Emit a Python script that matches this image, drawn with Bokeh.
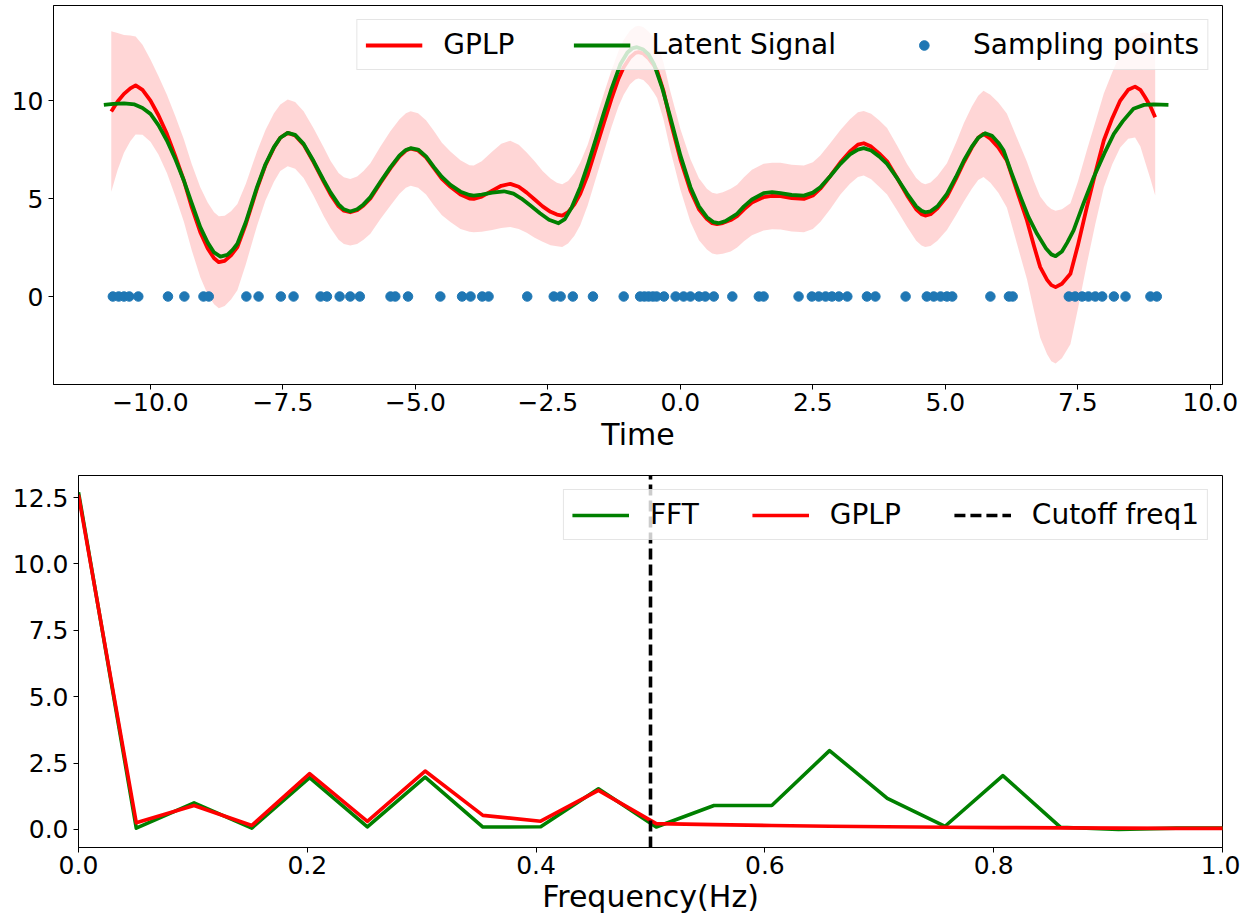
from bokeh.plotting import figure
from bokeh.models import (Legend, LegendItem, FixedTicker, CustomJSTickFormatter,
                          Range1d, ColumnDataSource)
from bokeh.embed import file_html
from bokeh.resources import INLINE

# ---------------- data: top panel ----------------
latent_t = [-10.88, -10.7, -10.5, -10.3, -10.15, -10.0, -9.85, -9.69, -9.53, -9.37,
            -9.22, -9.06, -8.92, -8.8, -8.68, -8.55, -8.45, -8.36, -8.2, -7.99,
            -7.83, -7.67, -7.55, -7.41, -7.27, -7.11, -6.92, -6.73, -6.6, -6.45,
            -6.35, -6.23, -6.1, -5.98, -5.85, -5.66, -5.47, -5.3, -5.18, -5.09,
            -4.95, -4.8, -4.65, -4.5, -4.34, -4.15, -3.98, -3.9, -3.75, -3.55,
            -3.33, -3.15, -3.0, -2.83, -2.65, -2.48, -2.3, -2.18, -2.05, -1.89,
            -1.75, -1.6, -1.45, -1.3, -1.13, -1.0, -0.9, -0.82, -0.7, -0.6,
            -0.5, -0.35, -0.19, 0.0, 0.19, 0.35, 0.5, 0.62, 0.72, 0.85,
            1.07, 1.2, 1.35, 1.57, 1.73, 1.89, 2.1, 2.33, 2.5, 2.64,
            2.83, 3.02, 3.2, 3.35, 3.46, 3.6, 3.75, 3.9, 4.1, 4.28,
            4.45, 4.55, 4.62, 4.72, 4.85, 5.03, 5.2, 5.35, 5.5, 5.62,
            5.75, 5.88, 6.0, 6.1, 6.25, 6.42, 6.57, 6.73, 6.9, 7.0,
            7.08, 7.2, 7.3, 7.42, 7.6, 7.8, 8.0, 8.18, 8.35, 8.55,
            8.75, 8.93, 9.21]
latent_y = [9.78, 9.83, 9.86, 9.8, 9.62, 9.32, 8.75, 7.96, 7.0, 5.92,
            4.75, 3.54, 2.75, 2.25, 2.04, 2.12, 2.38, 2.69, 3.8, 5.58,
            6.75, 7.62, 8.1, 8.35, 8.25, 7.79, 6.9, 5.92, 5.3, 4.7,
            4.45, 4.34, 4.45, 4.7, 5.07, 5.85, 6.6, 7.2, 7.48, 7.57,
            7.5, 7.15, 6.6, 6.1, 5.7, 5.35, 5.18, 5.15, 5.2, 5.3,
            5.37, 5.25, 5.0, 4.64, 4.25, 3.92, 3.74, 3.95, 4.55, 5.58,
            6.7, 8.0, 9.32, 10.6, 11.87, 12.45, 12.68, 12.72, 12.6, 12.35,
            11.87, 10.7, 9.15, 7.2, 5.58, 4.6, 4.05, 3.8, 3.74, 3.85,
            4.22, 4.6, 4.95, 5.27, 5.33, 5.27, 5.18, 5.15, 5.3, 5.58,
            6.15, 6.77, 7.25, 7.5, 7.57, 7.45, 7.15, 6.77, 6.0, 5.24,
            4.6, 4.38, 4.3, 4.35, 4.6, 5.24, 6.1, 6.94, 7.65, 8.1,
            8.33, 8.2, 7.85, 7.45, 6.3, 5.07, 4.05, 3.2, 2.45, 2.15,
            2.06, 2.3, 2.75, 3.37, 4.7, 6.09, 7.3, 8.3, 8.95, 9.58,
            9.78, 9.8, 9.78]

gplp_t = [-10.74, -10.62, -10.5, -10.38, -10.28, -10.15, -10.0, -9.85, -9.69, -9.53,
          -9.37, -9.22, -9.06, -8.92, -8.8, -8.71, -8.6, -8.48, -8.36, -8.2,
          -7.99, -7.83, -7.67, -7.55, -7.41, -7.27, -7.11, -6.92, -6.73, -6.6,
          -6.45, -6.35, -6.23, -6.1, -5.98, -5.85, -5.66, -5.47, -5.3, -5.18,
          -5.09, -4.95, -4.8, -4.65, -4.5, -4.34, -4.15, -3.98, -3.9, -3.75,
          -3.55, -3.38, -3.21, -3.05, -2.9, -2.75, -2.6, -2.45, -2.33, -2.23,
          -2.12, -2.0, -1.89, -1.75, -1.6, -1.45, -1.3, -1.17, -1.07, -0.95,
          -0.85, -0.79, -0.7, -0.6, -0.5, -0.44, -0.32, -0.19, 0.0, 0.19,
          0.35, 0.5, 0.6, 0.69, 0.8, 0.95, 1.07, 1.2, 1.35, 1.57,
          1.73, 1.89, 2.1, 2.33, 2.5, 2.64, 2.83, 3.02, 3.2, 3.35,
          3.46, 3.6, 3.75, 3.9, 4.1, 4.28, 4.45, 4.55, 4.62, 4.72,
          4.85, 5.03, 5.2, 5.35, 5.5, 5.62, 5.72, 5.85, 6.0, 6.16,
          6.35, 6.54, 6.67, 6.79, 6.92, 7.0, 7.08, 7.2, 7.36, 7.5,
          7.67, 7.83, 7.99, 8.15, 8.3, 8.45, 8.58, 8.68, 8.77, 8.87, 8.96]
gplp_y = [9.44, 9.95, 10.34, 10.62, 10.77, 10.55, 10.0, 9.25, 8.3, 7.15,
          5.92, 4.55, 3.28, 2.45, 1.95, 1.75, 1.82, 2.1, 2.52, 3.7,
          5.5, 6.7, 7.6, 8.1, 8.35, 8.22, 7.75, 6.85, 5.85, 5.2,
          4.6, 4.38, 4.3, 4.4, 4.65, 5.0, 5.8, 6.55, 7.15, 7.45,
          7.55, 7.45, 7.1, 6.55, 6.0, 5.6, 5.2, 5.0, 4.98, 5.1,
          5.4, 5.65, 5.75, 5.6, 5.3, 4.95, 4.6, 4.32, 4.18, 4.13,
          4.3, 4.7, 5.24, 6.2, 7.5, 8.81, 10.1, 11.1, 11.7, 12.2,
          12.43, 12.47, 12.4, 12.15, 11.8, 11.53, 10.5, 8.98, 7.0, 5.4,
          4.45, 3.95, 3.74, 3.69, 3.75, 3.9, 4.1, 4.45, 4.8, 5.07,
          5.13, 5.12, 5.02, 4.98, 5.15, 5.5, 6.15, 6.85, 7.4, 7.75,
          7.82, 7.65, 7.3, 6.9, 6.0, 5.15, 4.45, 4.2, 4.13, 4.2,
          4.5, 5.1, 6.0, 6.85, 7.6, 8.1, 8.3, 8.05, 7.6, 6.94,
          5.4, 3.88, 2.6, 1.5, 0.85, 0.58, 0.48, 0.65, 1.16, 2.6,
          4.56, 6.3, 7.96, 9.1, 10.0, 10.55, 10.71, 10.55, 10.17, 9.7, 9.15]
gplp_sd = [4.1, 3.5, 3.0, 2.7, 2.5, 2.3, 2.1, 2.0, 2.0, 2.05,
           2.1, 2.2, 2.3, 2.35, 2.35, 2.35, 2.3, 2.25, 2.2, 2.05,
           1.9, 1.8, 1.75, 1.7, 1.7, 1.7, 1.7, 1.72, 1.75, 1.72,
           1.7, 1.7, 1.7, 1.72, 1.75, 1.8, 1.85, 1.9, 1.9, 1.9,
           1.9, 1.9, 1.9, 1.9, 1.85, 1.8, 1.75, 1.7, 1.7, 1.8,
           2.0, 2.15, 2.2, 2.15, 2.05, 1.95, 1.8, 1.7, 1.62, 1.6,
           1.6, 1.6, 1.6, 1.55, 1.52, 1.5, 1.45, 1.42, 1.4, 1.37,
           1.35, 1.35, 1.35, 1.37, 1.4, 1.4, 1.45, 1.5, 1.55, 1.6,
           1.58, 1.55, 1.55, 1.55, 1.57, 1.6, 1.6, 1.63, 1.67, 1.7,
           1.7, 1.7, 1.7, 1.7, 1.7, 1.7, 1.68, 1.65, 1.65, 1.65,
           1.65, 1.67, 1.7, 1.7, 1.65, 1.6, 1.6, 1.6, 1.6, 1.62,
           1.65, 1.7, 1.85, 2.0, 2.1, 2.15, 2.2, 2.25, 2.3, 2.4,
           2.7, 3.0, 3.3, 3.6, 3.8, 3.88, 3.9, 3.8, 3.6, 3.25,
           2.9, 2.6, 2.4, 2.35, 2.4, 2.5, 2.6, 2.9, 3.3, 3.7, 4.0]

sample_t = [-10.71, -10.6, -10.5, -10.4, -10.23, -9.67, -9.36, -9.0, -8.9, -8.19, -7.96,
            -7.54, -7.3, -6.79, -6.67, -6.43, -6.23, -6.05, -5.47, -5.38, -5.14, -4.53,
            -4.12, -3.96, -3.74, -3.62, -2.89, -2.39, -2.26, -2.03, -1.65, -1.07, -0.76,
            -0.68, -0.6, -0.52, -0.45, -0.31, -0.09, 0.06, 0.19, 0.35, 0.47, 0.63, 0.98,
            1.48, 1.57, 2.23, 2.48, 2.61, 2.74, 2.86, 2.99, 3.15, 3.52, 3.68, 4.25, 4.65,
            4.78, 4.91, 5.03, 5.13, 5.85, 6.2, 6.27, 7.33, 7.45, 7.58, 7.7, 7.83, 7.96,
            8.18, 8.4, 8.87, 8.99]
sample_y = [0.0] * len(sample_t)

# ---------------- data: bottom panel ----------------
freq = [0.0, 0.0505, 0.101, 0.1515, 0.202, 0.2525, 0.303, 0.3535, 0.404, 0.4545, 0.505,
        0.5555, 0.606, 0.6565, 0.707, 0.7575, 0.808, 0.8585, 0.909, 0.9595, 1.01]
fft_amp = [12.7, 0.05, 1.0, 0.05, 1.95, 0.1, 1.97, 0.09, 0.1, 1.53, 0.09,
           0.9, 0.9, 2.97, 1.17, 0.12, 2.03, 0.08, 0.0, 0.05, 0.05]
gplp_amp = [12.6, 0.25, 0.9, 0.15, 2.1, 0.3, 2.2, 0.53, 0.31, 1.47, 0.22,
            0.18, 0.15, 0.12, 0.1, 0.08, 0.07, 0.06, 0.05, 0.04, 0.04]
cutoff = 0.5

FONT = "DejaVu Sans"


def style(p, xlabel, axis_standoff):
    p.outline_line_color = "black"
    p.outline_line_width = 1
    p.xgrid.visible = False
    p.ygrid.visible = False
    for ax in (p.xaxis[0], p.yaxis[0]):
        ax.major_label_text_font = FONT
        ax.major_label_text_font_size = "25px"
        ax.major_label_text_color = "black"
        ax.major_tick_in = 0
        ax.major_tick_out = 5
        ax.minor_tick_in = 0
        ax.minor_tick_out = 0
        ax.axis_line_color = "black"
        ax.major_tick_line_color = "black"
    p.yaxis[0].major_label_standoff = 5
    p.xaxis[0].major_label_standoff = 3
    p.xaxis[0].axis_label = xlabel
    p.xaxis[0].axis_label_text_font = FONT
    p.xaxis[0].axis_label_text_font_size = "30px"
    p.xaxis[0].axis_label_text_font_style = "normal"
    p.xaxis[0].axis_label_text_color = "black"
    p.xaxis[0].axis_label_standoff = axis_standoff


def make_legend(items, spacing):
    lg = Legend(items=items, location="top_right", orientation="horizontal")
    lg.label_text_font = FONT
    lg.label_text_font_size = "28px"
    lg.label_text_color = "black"
    lg.glyph_width = 57
    lg.glyph_height = 24
    lg.label_standoff = 21
    lg.spacing = spacing
    lg.padding = 8
    lg.margin = 14
    lg.border_line_color = "#cccccc"
    lg.border_line_width = 1
    lg.background_fill_alpha = 0.8
    return lg


fmt1 = CustomJSTickFormatter(code="return (tick < 0 ? '\u2212' : '') + Math.abs(tick).toFixed(1);")
fmt0 = CustomJSTickFormatter(code="return (tick < 0 ? '\u2212' : '') + Math.abs(tick).toFixed(0);")

# ---------------- top figure ----------------
p1 = figure(width=1240, height=456, output_backend="svg", toolbar_location=None,
            x_range=Range1d(-11.83, 10.23), y_range=Range1d(-4.49, 14.85),
            min_border_left=53, min_border_right=18, min_border_top=5, min_border_bottom=72)
style(p1, "Time", 3)
p1.xaxis[0].ticker = FixedTicker(ticks=[-10.0, -7.5, -5.0, -2.5, 0.0, 2.5, 5.0, 7.5, 10.0])
p1.xaxis[0].formatter = fmt1
p1.yaxis[0].ticker = FixedTicker(ticks=[0, 5, 10])
p1.yaxis[0].formatter = fmt0

band_src = ColumnDataSource(dict(
    t=gplp_t,
    lo=[m - s for m, s in zip(gplp_y, gplp_sd)],
    hi=[m + s for m, s in zip(gplp_y, gplp_sd)],
))
p1.varea(x="t", y1="lo", y2="hi", source=band_src, fill_color="red", fill_alpha=0.16)
r_gplp = p1.line(gplp_t, gplp_y, line_color="red", line_width=3.8, line_join="round")
r_lat = p1.line(latent_t, latent_y, line_color="green", line_width=3.8, line_join="round")
r_samp = p1.scatter(sample_t, sample_y, size=9.5, fill_color="#1f77b4", line_color="#1f77b4")

p1.add_layout(make_legend([
    LegendItem(label="GPLP", renderers=[r_gplp]),
    LegendItem(label="Latent Signal", renderers=[r_lat]),
    LegendItem(label="Sampling points", renderers=[r_samp]),
], 59))

# ---------------- bottom figure ----------------
y2_lo, y2_hi = -0.68, 13.33
p2 = figure(width=1240, height=462, output_backend="svg", toolbar_location=None,
            x_range=Range1d(0, 1), y_range=Range1d(y2_lo, y2_hi),
            min_border_left=78, min_border_right=18, min_border_top=19, min_border_bottom=71)
style(p2, "Frequency(Hz)", 2)
p2.xaxis[0].ticker = FixedTicker(ticks=[0.0, 0.2, 0.4, 0.6, 0.8, 1.0])
p2.xaxis[0].formatter = fmt1
p2.yaxis[0].ticker = FixedTicker(ticks=[0.0, 2.5, 5.0, 7.5, 10.0, 12.5])
p2.yaxis[0].formatter = fmt1

r_fft = p2.line(freq, fft_amp, line_color="green", line_width=3.6, line_join="round")
r_gp2 = p2.line(freq, gplp_amp, line_color="red", line_width=3.6, line_join="round")
r_cut = p2.line([cutoff, cutoff], [y2_lo, y2_hi], line_color="black", line_width=3.6,
                line_dash="11 5")

p2.add_layout(make_legend([
    LegendItem(label="FFT", renderers=[r_fft]),
    LegendItem(label="GPLP", renderers=[r_gp2]),
    LegendItem(label="Cutoff freq1", renderers=[r_cut]),
], 53))

open("out.html", "w").write(file_html([p1, p2], INLINE))
